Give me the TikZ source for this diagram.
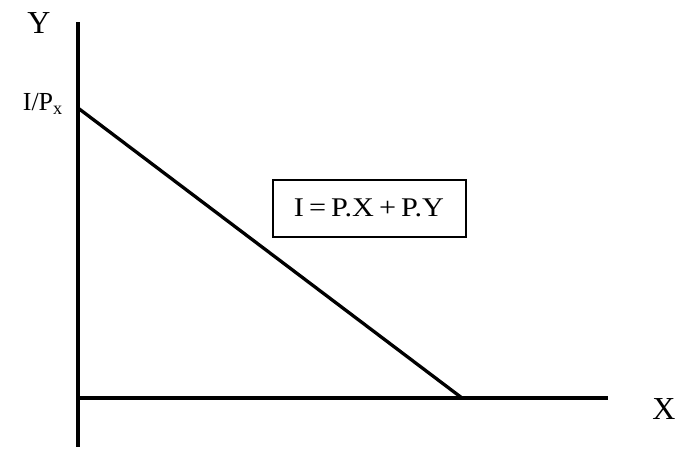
\documentclass[tikz,border=0pt]{standalone}
\usepackage{fontspec}
\setmainfont{Liberation Serif}
\begin{document}
\begin{tikzpicture}[x=1pt,y=-1pt,
  axis/.style={line width=3.3pt},
  lbl/.style={inner sep=0pt, font=\fontsize{32}{34}\selectfont},
  eqbox/.style={draw, line width=2pt, minimum width=193pt, minimum height=57pt, inner sep=0pt, font=\fontsize{27}{29}\selectfont}]
\useasboundingbox (0,0) rectangle (680,461);
\coordinate (ytop) at (78,22);
\coordinate (ybot) at (78,447);
\coordinate (xl) at (78,398);
\coordinate (xr) at (608,398);
\coordinate (a) at (78,108);
\coordinate (b) at (462,398);
\draw[axis] (ytop) -- (ybot);
\draw[axis] (xl) -- (xr);
\draw[axis] (a) -- (b);
\node[lbl] (ylab) at (39,23) {Y};
\node[lbl, anchor=east, font=\fontsize{26}{28}\selectfont] (ip) at (63,104) {I/P\textsubscript{x}};
\node[lbl] (xlab) at (664,409) {X};
\node[eqbox] (eq) at (369,208) {\scalebox{1.12}[1]{I\,=\,P.X\,+\,P.Y}};
\end{tikzpicture}
\end{document}
